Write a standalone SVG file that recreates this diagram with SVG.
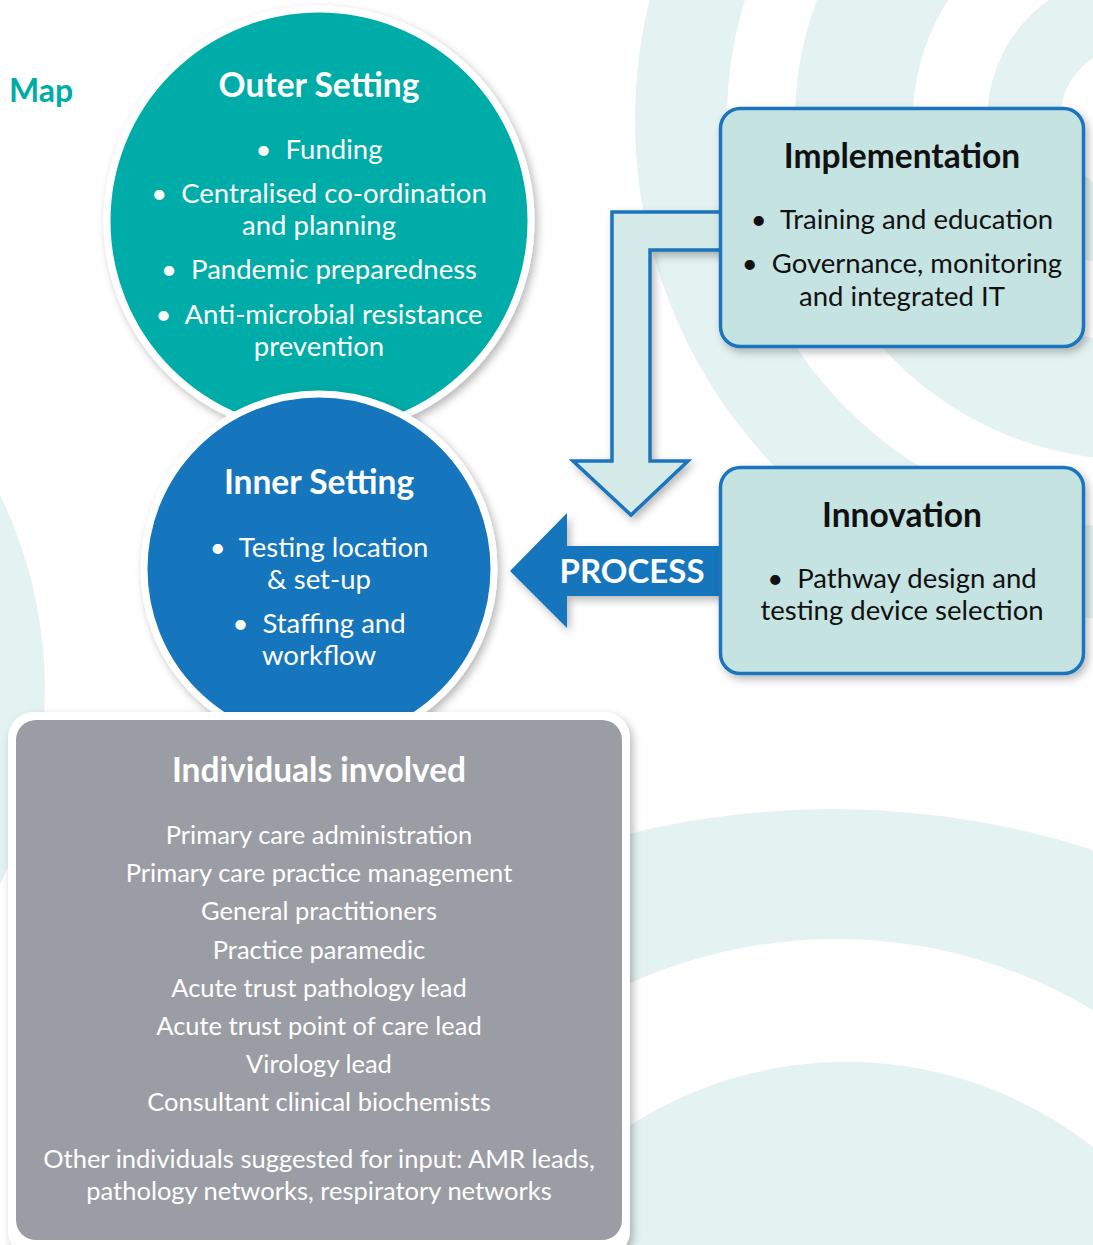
<svg xmlns="http://www.w3.org/2000/svg" width="1093" height="1245" viewBox="0 0 1093 1245">
<defs>
<filter id="sh" x="-20%" y="-20%" width="140%" height="140%">
<feDropShadow dx="3" dy="4" stdDeviation="4" flood-color="#000" flood-opacity="0.28"/>
</filter>
<style>
.bg{fill:#E4F3F2}
.ring{fill:none;stroke:#E4F3F2}
.t{font-family:Lato,"Open Sans","Liberation Sans",sans-serif;text-anchor:middle}
.h{font-size:33.5px;font-weight:bold}
.b{font-size:27.5px}
.w{fill:#FFFFFF}
.k{fill:#111111}
.box{fill:#C5E3E1;stroke:#1A75BC;stroke-width:3.5}
.li{font-size:25.5px;fill:#FFFFFF}
</style>
</defs>
<rect width="1093" height="1245" fill="#FFFFFF"/>
<g id="background">
<circle class="ring" cx="1135" cy="120" r="454" stroke-width="92"/>
<circle class="ring" cx="1135" cy="120" r="281" stroke-width="118"/>
<circle class="ring" cx="1135" cy="120" r="111.5" stroke-width="73"/>
<path class="bg" d="M 620 836 A 850 850 0 0 1 1093 850 L 1093 1010 A 500 500 0 0 0 620 988 Z"/>
<path class="bg" d="M 620 1132 A 400 400 0 0 1 1093 1147 L 1093 1245 L 620 1245 Z"/>
<circle class="bg" cx="-400" cy="690" r="445"/>
</g>
<text x="9" y="102" class="t" style="text-anchor:start;font-size:32px;font-weight:bold;fill:#00ACA7">Map</text>
<g id="outer-setting">
<circle cx="319" cy="221" r="212" fill="#00ACA7" stroke="#FFFFFF" stroke-width="7" filter="url(#sh)"/>
<text x="319" y="97" class="t h w">Outer Setting</text>
<text x="319" y="159" class="t b w">•&#160; Funding</text>
<text x="319" y="203" class="t b w">•&#160; Centralised co-ordination</text>
<text x="319" y="235" class="t b w">and planning</text>
<text x="319" y="279" class="t b w">•&#160; Pandemic preparedness</text>
<text x="319" y="324" class="t b w">•&#160; Anti-microbial resistance</text>
<text x="319" y="356" class="t b w">prevention</text>
</g>
<g id="inner-setting">
<circle cx="319" cy="569" r="175" fill="#1876BD" stroke="#FFFFFF" stroke-width="7" filter="url(#sh)"/>
<text x="319" y="494" class="t h w">Inner Setting</text>
<text x="319" y="557" class="t b w">•&#160; Testing location</text>
<text x="319" y="589" class="t b w">&amp; set-up</text>
<text x="319" y="633" class="t b w">•&#160; Staffing and</text>
<text x="319" y="665" class="t b w">workflow</text>
</g>
<g id="connectors">
<path d="M 722 212 L 612 212 L 612 461 L 573 461 L 631 515 L 688 461 L 650 461 L 650 250 L 722 250" fill="#D4EAE9" stroke="#1A75BC" stroke-width="3.5" stroke-linejoin="miter" filter="url(#sh)"/>
<path d="M 722 546 L 567 546 L 567 513 L 510 571 L 567 628 L 567 596 L 722 596 Z" fill="#1876BD" filter="url(#sh)"/>
<text x="632" y="583" class="t" style="font-size:33px;font-weight:bold;fill:#FFFFFF">PROCESS</text>
</g>
<g id="implementation">
<rect x="720.5" y="108.5" width="363" height="238" rx="20" class="box" filter="url(#sh)"/>
<text x="902" y="168" class="t h k">Implementation</text>
<text x="902" y="229" class="t b k">•&#160; Training and education</text>
<text x="902" y="273" class="t b k">•&#160; Governance, monitoring</text>
<text x="902" y="306" class="t b k">and integrated IT</text>
</g>
<g id="innovation">
<rect x="720.5" y="467.5" width="363" height="206" rx="20" class="box" filter="url(#sh)"/>
<text x="902" y="527" class="t h k">Innovation</text>
<text x="902" y="588" class="t b k">•&#160; Pathway design and</text>
<text x="902" y="620" class="t b k">testing device selection</text>
</g>
<g id="individuals">
<rect x="8" y="712" width="622" height="545" rx="26" fill="#FFFFFF" filter="url(#sh)"/>
<rect x="16" y="720" width="606" height="520" rx="20" fill="#9B9DA4"/>
<text x="319" y="782" class="t w" style="font-size:33.5px;font-weight:bold">Individuals involved</text>
<text x="319" y="844" class="t li">Primary care administration</text>
<text x="319" y="882" class="t li">Primary care practice management</text>
<text x="319" y="920" class="t li">General practitioners</text>
<text x="319" y="959" class="t li">Practice paramedic</text>
<text x="319" y="997" class="t li">Acute trust pathology lead</text>
<text x="319" y="1035" class="t li">Acute trust point of care lead</text>
<text x="319" y="1073" class="t li">Virology lead</text>
<text x="319" y="1111" class="t li">Consultant clinical biochemists</text>
<text x="319" y="1168" class="t li">Other individuals suggested for input: AMR leads,</text>
<text x="319" y="1200" class="t li">pathology networks, respiratory networks</text>
</g>
</svg>
